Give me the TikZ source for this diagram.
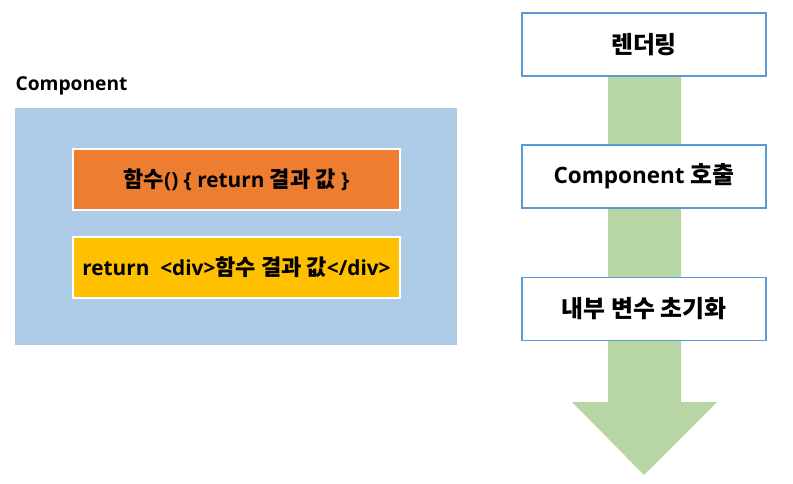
\documentclass[tikz,border=0pt]{standalone}
\usepackage{fontspec}
\setmainfont{Open Sans}
\newfontfamily\kr{Noto Sans CJK KR}[Scale=1.06]
\newcommand{\ko}[1]{{\kr\bfseries #1}}
\definecolor{compblue}{RGB}{174,203,232}
\definecolor{funcorange}{RGB}{237,125,49}
\definecolor{retyellow}{RGB}{255,192,0}
\definecolor{flowgreen}{RGB}{183,214,164}
\definecolor{edgeblue}{RGB}{91,155,213}

\begin{document}
\begin{tikzpicture}[x=1pt,y=-1pt,
    inbox/.style={draw=white,line width=1.5pt,minimum width=327pt,minimum height=61pt,font=\fontsize{20.8}{23}\selectfont\bfseries},
    stepbox/.style={draw=edgeblue,fill=white,line width=1.5pt,minimum width=244pt,minimum height=63pt,font=\fontsize{22.5}{25}\selectfont\bfseries}]
                \useasboundingbox (0,0) rectangle (793,484);
                % left side
                \node[anchor=west,font=\fontsize{19.2}{21}\selectfont\bfseries] (title) at (12,86) {Component};
                \node[fill=compblue,minimum width=442pt,minimum height=237pt] (comp) at (236,226.5) {};
                \node[inbox,fill=funcorange] (func) at (236.5,179.5) {\ko{함수}() \{ return \ko{결과 값} \}};
                \node[inbox,fill=retyellow] (ret) at (236.5,267.5) {return\ \ <div>\ko{함수 결과 값}</div>};
                % right side
                \coordinate (tip) at (644,475);
                \fill[flowgreen] (608,44) -- (681,44) -- (681,402) -- (717,402) -- (tip) -- (572,402) -- (608,402) -- cycle;
                \node[stepbox] (render) at (644,44.5) {\ko{렌더링}};
                \node[stepbox] (call) at (644,176.5) {Component \ko{호출}};
                \node[stepbox] (init) at (644,309) {\ko{내부 변수 초기화}};
            \end{tikzpicture}
\end{document}
